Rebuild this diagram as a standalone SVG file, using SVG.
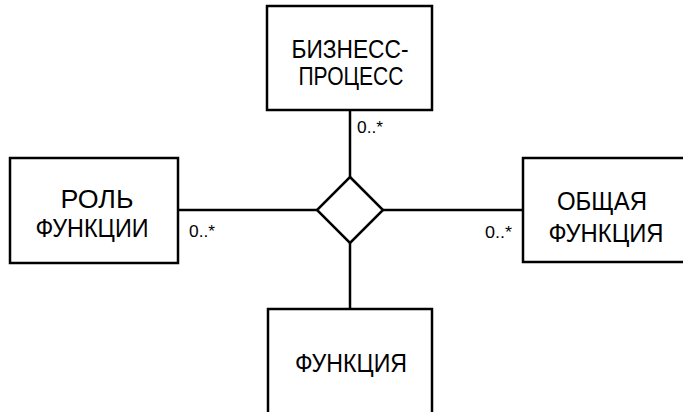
<svg xmlns="http://www.w3.org/2000/svg" width="683" height="412" viewBox="0 0 683 412">
<style>
.box{fill:#fff;stroke:#000;stroke-width:2.5}
.lbl{font-family:"Liberation Sans",Arial,sans-serif;font-size:26px;text-anchor:middle;fill:#000}
.mult{font-family:"Liberation Sans",Arial,sans-serif;font-size:16px;fill:#000}
.conn{stroke:#000;stroke-width:2.5;fill:none}
</style>
<rect width="683" height="412" fill="#fff"/>
<g id="connectors">
<line class="conn" x1="350" y1="110" x2="350" y2="177"/>
<line class="conn" x1="178" y1="210" x2="317" y2="210"/>
<line class="conn" x1="383" y1="210" x2="523" y2="210"/>
<line class="conn" x1="350" y1="243" x2="350" y2="309"/>
<polygon class="box" points="350,177 383,210 350,243 317,210"/>
<text class="mult" x="357" y="133" textLength="26" lengthAdjust="spacingAndGlyphs">0..*</text>
<text class="mult" x="189" y="237" textLength="26" lengthAdjust="spacingAndGlyphs">0..*</text>
<text class="mult" x="485" y="238" textLength="27" lengthAdjust="spacingAndGlyphs">0..*</text>
</g>
<g id="business-process">
<rect class="box" x="267" y="6" width="165" height="104"/>
<text class="lbl" x="350" y="58" textLength="117" lengthAdjust="spacingAndGlyphs">БИЗНЕСС-</text>
<text class="lbl" x="351" y="85" textLength="105" lengthAdjust="spacingAndGlyphs">ПРОЦЕСС</text>
</g>
<g id="role">
<rect class="box" x="10" y="158" width="168" height="105"/>
<text class="lbl" x="97" y="208" textLength="73" lengthAdjust="spacingAndGlyphs">РОЛЬ</text>
<text class="lbl" x="92" y="237" textLength="113" lengthAdjust="spacingAndGlyphs">ФУНКЦИИ</text>
</g>
<g id="general-function">
<rect class="box" x="523" y="158" width="170" height="104"/>
<text class="lbl" x="602" y="210" textLength="90" lengthAdjust="spacingAndGlyphs">ОБЩАЯ</text>
<text class="lbl" x="606" y="242" textLength="115" lengthAdjust="spacingAndGlyphs">ФУНКЦИЯ</text>
</g>
<g id="function">
<rect class="box" x="268" y="309" width="164" height="110"/>
<text class="lbl" x="351" y="372" textLength="112" lengthAdjust="spacingAndGlyphs">ФУНКЦИЯ</text>
</g>
</svg>
